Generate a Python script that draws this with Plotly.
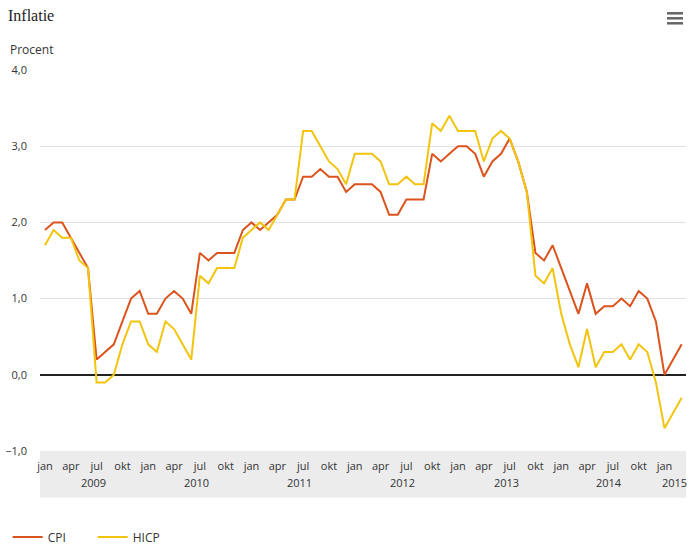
import plotly.graph_objects as go

# Monthly data Jan 2009 .. Mar 2015
cpi = [1.9, 2.0, 2.0, 1.8, 1.6, 1.4, 0.2, 0.3, 0.4, 0.7, 1.0, 1.1,
       0.8, 0.8, 1.0, 1.1, 1.0, 0.8, 1.6, 1.5, 1.6, 1.6, 1.6, 1.9,
       2.0, 1.9, 2.0, 2.1, 2.3, 2.3, 2.6, 2.6, 2.7, 2.6, 2.6, 2.4,
       2.5, 2.5, 2.5, 2.4, 2.1, 2.1, 2.3, 2.3, 2.3, 2.9, 2.8, 2.9,
       3.0, 3.0, 2.9, 2.6, 2.8, 2.9, 3.1, 2.8, 2.4, 1.6, 1.5, 1.7,
       1.4, 1.1, 0.8, 1.2, 0.8, 0.9, 0.9, 1.0, 0.9, 1.1, 1.0, 0.7,
       0.0, 0.2, 0.4]
hicp = [1.7, 1.9, 1.8, 1.8, 1.5, 1.4, -0.1, -0.1, 0.0, 0.4, 0.7, 0.7,
        0.4, 0.3, 0.7, 0.6, 0.4, 0.2, 1.3, 1.2, 1.4, 1.4, 1.4, 1.8,
        1.9, 2.0, 1.9, 2.1, 2.3, 2.3, 3.2, 3.2, 3.0, 2.8, 2.7, 2.5,
        2.9, 2.9, 2.9, 2.8, 2.5, 2.5, 2.6, 2.5, 2.5, 3.3, 3.2, 3.4,
        3.2, 3.2, 3.2, 2.8, 3.1, 3.2, 3.1, 2.8, 2.4, 1.3, 1.2, 1.4,
        0.8, 0.4, 0.1, 0.6, 0.1, 0.3, 0.3, 0.4, 0.2, 0.4, 0.3, -0.1,
        -0.7, -0.5, -0.3]
month_names = ["jan", "apr", "jul", "okt"]
years = [2009, 2010, 2011, 2012, 2013, 2014, 2015]

x = list(range(len(cpi)))
tickvals = list(range(0, len(cpi), 3))
ticktext = [month_names[(v % 12) // 3] for v in tickvals]

font = "Open Sans, Noto Sans, sans-serif"
fig = go.Figure()
fig.add_trace(go.Scatter(x=x, y=cpi, mode="lines", name="CPI",
                         line=dict(color="#db531d", width=2)))
fig.add_trace(go.Scatter(x=x, y=hicp, mode="lines", name="HICP",
                         line=dict(color="#f3c40e", width=2)))

# gray band under the plot for axis labels
fig.add_shape(type="rect", xref="paper", yref="paper", x0=0, x1=1,
              y0=-0.123, y1=0, fillcolor="#ececec", line_width=0, layer="below")

# year labels
for yr in years:
    pos = (yr - 2009) * 12 + 5.6 if yr < 2015 else 73.2
    fig.add_annotation(x=pos, y=-0.083, xref="x", yref="paper", text=str(yr),
                       showarrow=False, font=dict(size=11, color="#333", family=font),
                       yanchor="middle")

fig.add_annotation(x=-0.0495, y=1.0525, xref="paper", yref="paper", text="Procent",
                   showarrow=False, xanchor="left", yanchor="middle",
                   font=dict(size=12, color="#333", family=font))

# menu icon
for yy in [13.3, 18.3, 23.3]:
    fig.add_shape(type="line", xref="paper", yref="paper",
                  x0=(667 - 40) / 646, x1=(683 - 40) / 646,
                  y0=(451 - yy) / 381, y1=(451 - yy) / 381,
                  line=dict(color="#666", width=2.5))

fig.update_layout(
    width=693, height=548,
    margin=dict(l=40, r=7, t=70, b=97, autoexpand=False),
    paper_bgcolor="white", plot_bgcolor="white",
    separators=",.",
    title=dict(text="Inflatie", x=8 / 693, xanchor="left", y=1 - 15 / 548,
               yanchor="middle", font=dict(family="Liberation Serif, serif", size=16, color="#222")),
    xaxis=dict(range=[-0.58, 74.5], tickvals=tickvals, ticktext=ticktext,
               showgrid=False, zeroline=False, showline=False, ticks="",
               ticklabelstandoff=7,
               tickfont=dict(size=11, color="#333", family=font)),
    yaxis=dict(range=[-1, 4], dtick=1, tickformat=".1f", showgrid=True,
               gridcolor="#e0e0e0", gridwidth=1, zeroline=True, zerolinecolor="#222",
               zerolinewidth=2, ticks="", ticklabelstandoff=12,
               tickfont=dict(size=11, color="#333", family=font)),
    legend=dict(orientation="h", x=-0.05, y=-0.226, xanchor="left", yanchor="middle",
                font=dict(size=12, color="#333", family=font), itemwidth=30,
                entrywidth=40),
    showlegend=True,
)

fig.write_html("out.html")
